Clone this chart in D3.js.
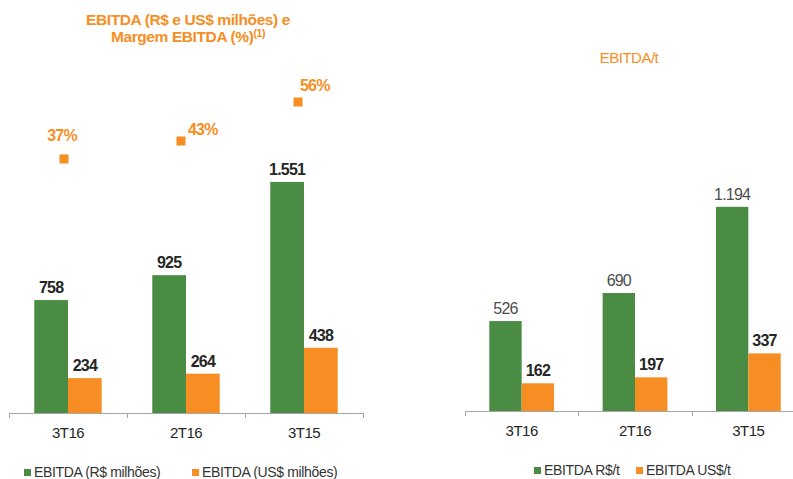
<!DOCTYPE html>
<html>
<head>
<meta charset="utf-8">
<script src="https://cdn.jsdelivr.net/npm/d3@7"></script>
<style>
  html, body { margin: 0; padding: 0; background: #fff; }
  svg { display: block; font-family: "Liberation Sans", Arial, Helvetica, sans-serif; }
</style>
</head>
<body>
<svg id="chart" width="793" height="479"></svg>
<script>
// Quarters shown in both panels
const categories = ["3T16", "2T16", "3T15"];

// EBITDA panel (R$ and US$ millions) plus EBITDA margin (%)
const ebitdaBRL = [758, 925, 1551];
const ebitdaUSD = [234, 264, 438];
const ebitdaMargin = [37, 43, 56];
const ebitdaBRLLabels = ["758", "925", "1.551"];
const ebitdaUSDLabels = ["234", "264", "438"];
const marginLabels = ["37%", "43%", "56%"];

// EBITDA per tonne panel
const perTonBRL = [526, 690, 1194];
const perTonUSD = [162, 197, 337];
const perTonBRLLabels = ["526", "690", "1.194"];
const perTonUSDLabels = ["162", "197", "337"];

const GREEN = "#4b8c45";
const ORANGE = "#f68e23";
const AXIS = "#a6a6a6";
const DARK = "#262626";

const svg = d3.select("#chart");

function drawPanel(opts) {
  const g = svg.append("g");
  const x0 = d3.scaleBand().domain(categories).range(opts.xRange).paddingInner(0).paddingOuter(0);
  const x1 = d3.scaleBand().domain(["a", "b"]).range([0, x0.bandwidth()]).paddingInner(0).paddingOuter(0.75);
  const y = d3.scaleLinear().domain(opts.yDomain).range(opts.yRange);

  const rows = categories.map((c, i) => ({
    cat: c,
    vals: [
      { key: "a", v: opts.seriesA[i], label: opts.labelsA[i], color: GREEN, font: opts.fontA },
      { key: "b", v: opts.seriesB[i], label: opts.labelsB[i], color: ORANGE, font: opts.fontB }
    ]
  }));

  const groups = g.selectAll("g.grp").data(rows).join("g")
    .attr("class", "grp")
    .attr("transform", d => `translate(${x0(d.cat)},0)`);

  groups.selectAll("rect").data(d => d.vals).join("rect")
    .attr("x", d => x1(d.key))
    .attr("width", x1.bandwidth())
    .attr("y", d => y(d.v))
    .attr("height", d => y(0) - y(d.v))
    .attr("fill", d => d.color);

  groups.selectAll("text.val").data(d => d.vals).join("text")
    .attr("class", "val")
    .attr("x", d => x1(d.key) + x1.bandwidth() / 2)
    .attr("y", d => y(d.v) - 7)
    .attr("text-anchor", "middle")
    .attr("font-size", 16)
    .attr("letter-spacing", "-0.8px")
    .attr("font-weight", d => d.font.weight)
    .attr("fill", d => d.font.color)
    .text(d => d.label);

  // Baseline with tick marks at category boundaries
  const y0 = y(0);
  g.append("line")
    .attr("x1", opts.xRange[0]).attr("x2", opts.xRange[1])
    .attr("y1", y0 + 0.5).attr("y2", y0 + 0.5)
    .attr("stroke", AXIS).attr("stroke-width", 1);
  const bounds = categories.map(c => x0(c)).concat([opts.xRange[1]]);
  g.selectAll("line.tick").data(bounds).join("line")
    .attr("class", "tick")
    .attr("x1", d => Math.round(d) + 0.5).attr("x2", d => Math.round(d) + 0.5)
    .attr("y1", y0).attr("y2", y0 + 5)
    .attr("stroke", AXIS).attr("stroke-width", 1);

  // Category labels from a bottom axis
  const ax = g.append("g")
    .attr("transform", `translate(0,${y0})`)
    .call(d3.axisBottom(x0).tickSize(0).tickPadding(14));
  ax.select(".domain").remove();
  ax.selectAll("text")
    .attr("font-family", "Liberation Sans, Arial, sans-serif")
    .attr("font-size", 15)
    .attr("letter-spacing", "-0.5px")
    .attr("fill", DARK);

  // Legend
  const lg = g.append("g");
  opts.legend.forEach((item) => {
    lg.append("rect")
      .attr("x", item.x).attr("y", opts.legendY - 8)
      .attr("width", 7).attr("height", 7)
      .attr("fill", item.color);
    lg.append("text")
      .attr("x", item.x + 10).attr("y", opts.legendY)
      .attr("font-size", 14)
      .attr("letter-spacing", "-0.35px")
      .attr("fill", "#333")
      .text(item.text);
  });

  return { x0, y };
}

// Left panel: EBITDA in millions
const left = drawPanel({
  xRange: [9, 363],
  yDomain: [0, 2000],
  yRange: [413, 115],
  seriesA: ebitdaBRL, seriesB: ebitdaUSD,
  labelsA: ebitdaBRLLabels, labelsB: ebitdaUSDLabels,
  fontA: { weight: "bold", color: DARK },
  fontB: { weight: "bold", color: DARK },
  legendY: 477,
  legend: [
    { x: 24, color: GREEN, text: "EBITDA (R$ milhões)" },
    { x: 192, color: ORANGE, text: "EBITDA (US$ milhões)" }
  ]
});

// Margin markers on their own scale
const yMargin = d3.scaleLinear().domain([30, 60]).range([180, 90]);
const marginNudge = [
  { mx: -4, lx: -2, ly: -18, anchor: "middle" },
  { mx: -5, lx: 7, ly: -6, anchor: "start" },
  { mx: -6, lx: 2, ly: -11, anchor: "start" }
];
const mg = svg.append("g");
categories.forEach((c, i) => {
  const cx = left.x0(c) + left.x0.bandwidth() / 2 + marginNudge[i].mx;
  const cy = yMargin(ebitdaMargin[i]);
  mg.append("rect")
    .attr("x", cx - 4.5).attr("y", cy - 4.5)
    .attr("width", 9).attr("height", 9)
    .attr("fill", ORANGE);
  mg.append("text")
    .attr("x", cx + marginNudge[i].lx).attr("y", cy + marginNudge[i].ly)
    .attr("text-anchor", marginNudge[i].anchor)
    .attr("font-size", 16)
    .attr("font-weight", "bold")
    .attr("letter-spacing", "-0.8px")
    .attr("fill", ORANGE)
    .text(marginLabels[i]);
});

// Right panel: EBITDA per tonne
drawPanel({
  xRange: [465, 805],
  yDomain: [0, 1400],
  yRange: [411, 171.6],
  seriesA: perTonBRL, seriesB: perTonUSD,
  labelsA: perTonBRLLabels, labelsB: perTonUSDLabels,
  fontA: { weight: "normal", color: "#4d4d4d" },
  fontB: { weight: "bold", color: DARK },
  legendY: 475,
  legend: [
    { x: 534, color: GREEN, text: "EBITDA R$/t" },
    { x: 636, color: ORANGE, text: "EBITDA US$/t" }
  ]
});

// Titles
svg.append("text")
  .attr("x", 188).attr("y", 25)
  .attr("text-anchor", "middle")
  .attr("font-size", 15.5)
  .attr("font-weight", "bold")
  .attr("letter-spacing", "-0.4px")
  .attr("fill", ORANGE)
  .text("EBITDA (R$ e US$ milhões) e");
const t2 = svg.append("text")
  .attr("x", 188).attr("y", 42)
  .attr("text-anchor", "middle")
  .attr("font-size", 15.5)
  .attr("font-weight", "bold")
  .attr("letter-spacing", "-0.4px")
  .attr("fill", ORANGE);
t2.append("tspan").text("Margem EBITDA (%)");
t2.append("tspan").attr("dy", -5).attr("font-size", 10.5).text("(1)");

svg.append("text")
  .attr("x", 629).attr("y", 63)
  .attr("text-anchor", "middle")
  .attr("font-size", 15)
  .attr("letter-spacing", "-0.5px")
  .attr("fill", ORANGE)
  .text("EBITDA/t");
</script>
</body>
</html>
